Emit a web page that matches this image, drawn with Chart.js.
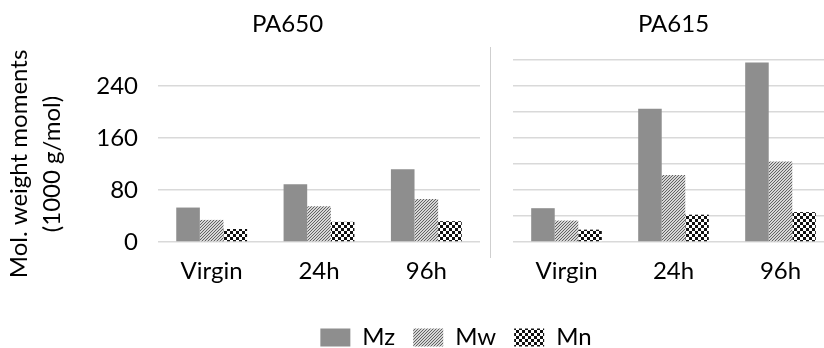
<!DOCTYPE html>
<html>
<head>
<meta charset="utf-8">
<script src="https://cdn.jsdelivr.net/npm/chart.js@4.4.1/dist/chart.umd.min.js"></script>
<style>
  html, body { margin: 0; padding: 0; background: #fff; }
  body { width: 824px; height: 348px; overflow: hidden; position: relative; }
  canvas { position: absolute; top: 0; }
  #bg { left: 0; }
  #left { left: 95px; }
  #right { left: 500px; }
  #divider { position: absolute; left: 490px; top: 47px; width: 1px; height: 211px; background: #cfcfcf; }
</style>
</head>
<body>
<canvas id="bg" width="824" height="348"></canvas>
<canvas id="left" width="410" height="300"></canvas>
<canvas id="right" width="352" height="300"></canvas>
<div id="divider"></div>
<script>
// ---- data ----
const categories = ['Virgin', '24h', '96h'];
const seriesNames = ['Mz', 'Mw', 'Mn'];
const pa650Mz = [53, 89, 112];
const pa650Mw = [34, 55, 66];
const pa650Mn = [20, 31, 32];
const pa615Mz = [52, 205, 276];
const pa615Mw = [33, 103, 124];
const pa615Mn = [19, 42, 46];
const yMin = 0;
const yMax = 280;
const yStep = 40;
const yLabeledTicks = [0, 80, 160, 240];
const panelTitles = ['PA650', 'PA615'];
const yAxisTitle = ['Mol. weight moments', '(1000 g/mol)'];

Chart.defaults.font.family = 'Lato, "DejaVu Sans", sans-serif';
Chart.defaults.color = '#000';
Chart.defaults.animation = false;

function makeFills(ctx) {
  // fine "/" hatch, 3px period
  const h = document.createElement('canvas');
  h.width = 3; h.height = 3;
  const hx = h.getContext('2d');
  hx.fillStyle = '#d6d6d6'; hx.fillRect(0, 0, 3, 3);
  hx.fillStyle = '#626262';
  hx.fillRect(2, 0, 1, 1); hx.fillRect(1, 1, 1, 1); hx.fillRect(0, 2, 1, 1);
  // checkerboard, 3px squares
  const c = document.createElement('canvas');
  c.width = 6; c.height = 6;
  const cx = c.getContext('2d');
  cx.fillStyle = '#fff'; cx.fillRect(0, 0, 6, 6);
  cx.fillStyle = '#111';
  cx.fillRect(0, 0, 3, 3); cx.fillRect(3, 3, 3, 3);
  return ['#8e8e8e', ctx.createPattern(h, 'repeat'), ctx.createPattern(c, 'repeat')];
}

function panelDatasets(ctx, values) {
  const fills = makeFills(ctx);
  return values.map((v, i) => ({
    label: seriesNames[i],
    data: v,
    backgroundColor: fills[i],
    borderWidth: 0,
    categoryPercentage: 0.66,
    barPercentage: 1.0
  }));
}

function panelChart(id, title, values, isLeft) {
  const canvas = document.getElementById(id);
  const ctx = canvas.getContext('2d');
  return new Chart(ctx, {
    type: 'bar',
    data: { labels: categories, datasets: panelDatasets(ctx, values) },
    options: {
      responsive: false,
      animation: false,
      layout: { padding: isLeft ? { left: 0, right: 25, top: 0, bottom: 0 } : { left: 13, right: 18, top: 0, bottom: 0 } },
      plugins: {
        legend: { display: false },
        tooltip: { enabled: false },
        title: {
          display: true, text: title, color: '#000',
          font: { size: 24, weight: 'normal', lineHeight: 1.2 },
          padding: { top: 9.6, bottom: 21.6 }
        }
      },
      scales: {
        x: {
          offset: true,
          grid: { display: false, drawTicks: false },
          border: { display: false },
          ticks: { font: { size: 24 }, color: '#000', padding: 15, maxRotation: 0 },
          afterFit: s => { s.height = 300 - 242; }
        },
        y: {
          min: yMin, max: yMax,
          grid: { color: '#d9d9d9', lineWidth: 1.5, drawTicks: false },
          border: { display: false },
          ticks: {
            display: isLeft, stepSize: yStep, font: { size: 24 }, color: '#000', padding: 20,
            callback: v => yLabeledTicks.includes(v) ? String(v) : ''
          },
          afterFit: s => { s.width = isLeft ? 63 : 0; }
        }
      }
    }
  });
}

panelChart('left', panelTitles[0], [pa650Mz, pa650Mw, pa650Mn], true);
panelChart('right', panelTitles[1], [pa615Mz, pa615Mw, pa615Mn], false);

// background chart: shared y-axis title and legend
(function () {
  const canvas = document.getElementById('bg');
  const ctx = canvas.getContext('2d');
  const fills = makeFills(ctx);
  new Chart(ctx, {
    type: 'bar',
    data: {
      labels: [],
      datasets: seriesNames.map((n, i) => ({ label: n, data: [], backgroundColor: fills[i], borderWidth: 0 }))
    },
    options: {
      responsive: false,
      animation: false,
      layout: { padding: { left: 0, right: 12, top: 20.5, bottom: 0 } },
      plugins: {
        tooltip: { enabled: false },
        legend: {
          position: 'bottom',
          fullSize: false,
          maxHeight: 40.5,
          labels: { boxWidth: 30, boxHeight: 18, padding: 18, color: '#000', font: { size: 24 } }
        }
      },
      scales: {
        x: { display: false },
        y: {
          display: true,
          grid: { display: false },
          border: { display: false },
          ticks: { display: false },
          title: { display: true, text: yAxisTitle, color: '#000', font: { size: 24, lineHeight: 1.375 }, padding: { top: 2.5, bottom: 0 } },
          afterFit: s => { s.width = 100; }
        }
      }
    }
  });
})();
</script>
</body>
</html>
